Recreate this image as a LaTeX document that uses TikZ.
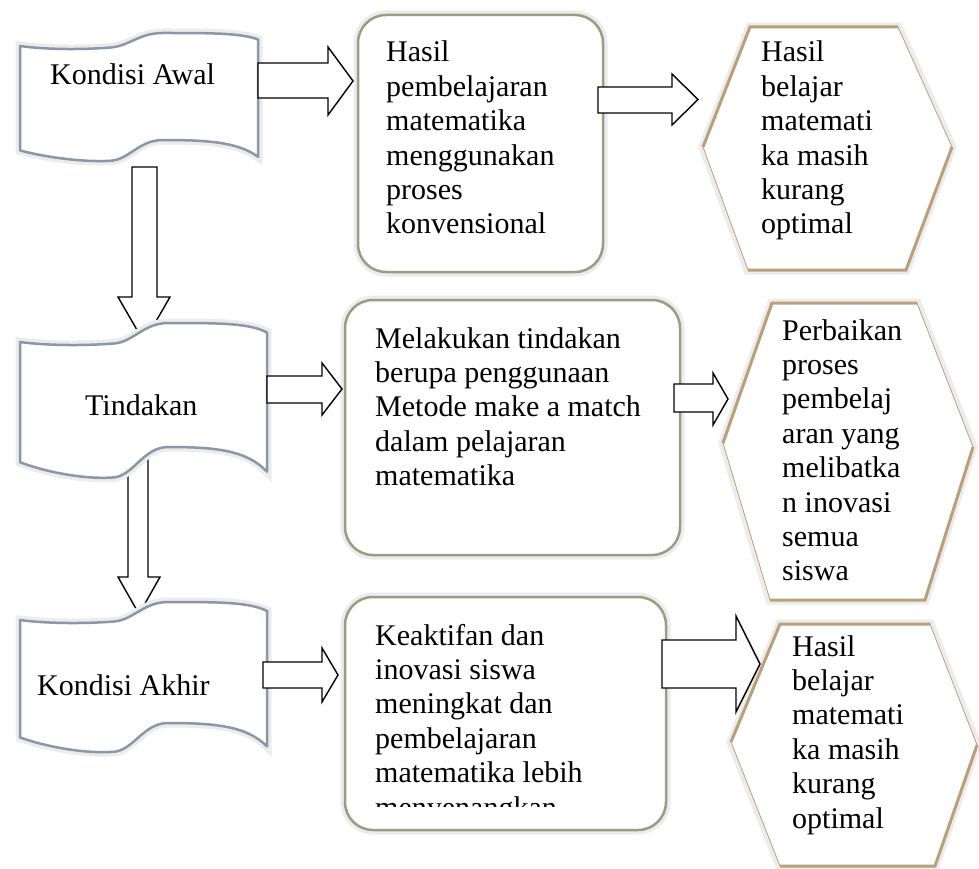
\documentclass[tikz,border=0pt]{standalone}
\usepackage{fontspec}
\setmainfont{Liberation Serif}
\definecolor{glowc}{RGB}{236,236,236}
\definecolor{bannerc}{RGB}{139,150,166}
\definecolor{boxc}{RGB}{152,158,131}
\definecolor{hexc}{RGB}{185,160,125}
\tikzset{
  glowing/.style={preaction={draw=glowc, line width=9pt}},
  bannerbox/.style={glowing, fill=white, draw=bannerc, line width=2.5pt, line join=round},
  roundbox/.style={glowing, fill=white, draw=boxc, line width=2.5pt, rounded corners=28pt, inner sep=0pt},
  hexbase/.style={glowing, fill=white, draw=hexc, line width=0.8pt},
  hexthick/.style={draw=hexc, line width=3pt, line join=miter},
  blockarrow/.style={draw=black, line width=1.4pt, fill=white, line join=miter},
  lbl/.style={anchor=base west, inner sep=0pt, align=left},
}
% banner: L, T, W, A, H
\newcommand\wavebanner[5]{%
  \path[bannerbox] (#1,#2+#4)
    .. controls (#1+0.12*#3,#2+#4+4) and (#1+0.28*#3,#2+#4+3.5) .. (#1+0.38*#3,#2+#4+1.5)
    .. controls (#1+0.46*#3,#2+#4) and (#1+0.50*#3,#2) .. (#1+0.60*#3,#2)
    .. controls (#1+0.80*#3,#2) and (#1+0.93*#3,#2) .. (#1+#3,#2+0.5*#4)
    -- (#1+#3,#2+#5+1.3*#4)
    .. controls (#1+0.92*#3,#2+#5+0.2*#4) and (#1+0.80*#3,#2+#5) .. (#1+0.60*#3,#2+#5)
    .. controls (#1+0.50*#3,#2+#5) and (#1+0.46*#3,#2+#5+1.5*#4) .. (#1+0.38*#3,#2+#5+1.6*#4)
    .. controls (#1+0.26*#3,#2+#5+1.72*#4) and (#1+0.10*#3,#2+#5+1.3*#4) .. (#1,#2+#5+0.8*#4)
    -- cycle;}
% hexagon: name, tl, tr, r, br, bl, l
\newcommand\hexbox[7]{%
  \coordinate (#1-tl) at (#2); \coordinate (#1-tr) at (#3);
  \coordinate (#1-r) at (#4);  \coordinate (#1-br) at (#5);
  \coordinate (#1-bl) at (#6); \coordinate (#1-l) at (#7);
  \path[hexbase] (#1-tl) -- (#1-tr) -- (#1-r) -- (#1-br) -- (#1-bl) -- (#1-l) -- cycle;
  \draw[hexthick] (#1-l) -- (#1-tl) -- (#1-tr);
  \draw[hexthick] (#1-r) -- (#1-br) -- (#1-bl);}
% right block arrow: x0, shaft y1, shaft y2, head x, head y1, head y2, tip x
\newcommand\blockR[7]{%
  \draw[blockarrow] (#1,#2) -- (#4,#2) -- (#4,#5) -- (#7,{(#5+#6)/2}) -- (#4,#6) -- (#4,#3) -- (#1,#3) -- cycle;}
% down block arrow: y0, shaft x1, shaft x2, head y, head x1, head x2, tip y
\newcommand\blockD[7]{%
  \draw[blockarrow] (#2,#1) -- (#2,#4) -- (#5,#4) -- ({(#5+#6)/2},#7) -- (#6,#4) -- (#3,#4) -- (#3,#1) -- cycle;}
\begin{document}
\begin{tikzpicture}[x=1pt, y=-1pt, font=\fontsize{30}{34.4}\selectfont]
\useasboundingbox (0,0) rectangle (979,869);
\fill[white] (0,0) rectangle (979,869);

% vertical block arrows (behind banners)
\blockD{167}{132}{157}{297}{118}{170}{342}
\blockD{455}{128}{148}{577}{118}{160}{614}

% banners
\wavebanner{20}{33}{238}{13}{107}
\wavebanner{20}{323}{247}{19}{124}
\wavebanner{20}{602}{247}{18}{121}
\node[lbl] (kawal) at (50,85) {Kondisi Awal};
\node[lbl] (tindakan) at (85,415) {Tindakan};
\node[lbl] (kakhir) at (37,695) {Kondisi Akhir};

% rounded boxes
\node[roundbox, minimum width=245pt, minimum height=257pt] (box1) at (480.5,143.5) {};
\node[roundbox, minimum width=335pt, minimum height=255pt] (box2) at (512.5,427.5) {};
\node[roundbox, minimum width=321pt, minimum height=233pt] (box3) at (505.5,713.5) {};
\node[lbl] (t1) at (386,62) {\parbox[t]{200pt}{Hasil\\pembelajaran\\matematika\\menggunakan\\proses\\konvensional}};
\node[lbl] (t2) at (375,348) {\parbox[t]{300pt}{Melakukan tindakan\\berupa penggunaan\\Metode make a match\\dalam pelajaran\\matematika}};
\begin{scope}
  \clip (340,590) rectangle (660,806);
  \node[lbl] (t3) at (375,645) {\parbox[t]{260pt}{Keaktifan dan\\inovasi siswa\\meningkat dan\\pembelajaran\\matematika lebih\\menyenangkan}};
\end{scope}

% hexagons
\hexbox{h1}{750,27}{898,27}{952,147}{906,270}{748,270}{703,147}
\hexbox{h2}{772,303}{917,303}{973,447}{925,600}{770,600}{723,443}
\hexbox{h3}{780,624}{930,624}{977,745}{935,866}{780,866}{731,742}
\node[lbl] (ht1) at (761,62) {\parbox[t]{200pt}{Hasil\\belajar\\matemati\\ka masih\\kurang\\optimal}};
\node[lbl] (ht2) at (782,340) {\parbox[t]{200pt}{Perbaikan\\proses\\pembelaj\\aran yang\\melibatka\\n inovasi\\semua\\siswa}};
\node[lbl] (ht3) at (792,656) {\parbox[t]{200pt}{Hasil\\belajar\\matemati\\ka masih\\kurang\\optimal}};

% horizontal block arrows
\blockR{258}{63}{98}{328}{47}{115}{353}
\blockR{267}{376}{403}{322}{363}{415}{342}
\blockR{263}{662}{688}{322}{648}{702}{338}
\blockR{598}{87}{113}{672}{74}{125}{698}
\blockR{674}{384}{412}{713}{373}{425}{728}
\blockR{662}{640}{688}{736}{616}{712}{760}
\end{tikzpicture}
\end{document}
